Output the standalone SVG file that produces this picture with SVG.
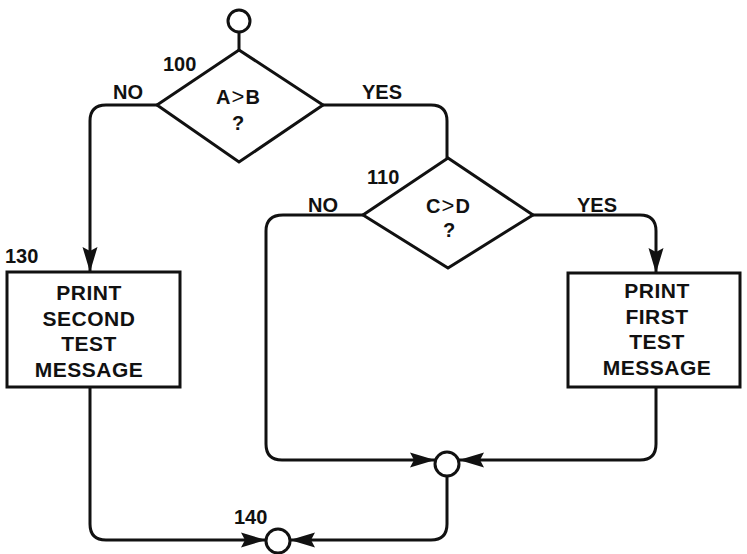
<svg xmlns="http://www.w3.org/2000/svg" width="747" height="554" viewBox="0 0 747 554">
<style>
.s{fill:#fff;stroke:#111;stroke-width:3}
.c{fill:none;stroke:#111;stroke-width:3}
text{font-family:"Liberation Sans",Arial,sans-serif;font-weight:bold;fill:#111}
.t{font-size:21px;letter-spacing:0.5px;text-anchor:middle}
.l{font-size:20px}
.q{font-size:20px;text-anchor:middle}
.gt{font-weight:normal;font-size:22px}
</style>
<defs>
<marker id="ah" markerUnits="userSpaceOnUse" markerWidth="30" markerHeight="20" viewBox="-26 -10 30 20" refX="0" refY="0" orient="auto">
<path d="M0,0 L-25,-7.5 L-21,0 L-25,7.5 Z" fill="#111"/>
</marker>
</defs>
<g id="connectors">
<path class="c" d="M239,32 V50"/>
<path class="c" d="M157,105 H106 Q90,105 90,121 V272" marker-end="url(#ah)"/>
<path class="c" d="M323,105 H431 Q447,105 447,121 V158"/>
<path class="c" d="M363,215 H283 Q266,215 266,231 V444 Q266,460 282,460 H435" marker-end="url(#ah)"/>
<path class="c" d="M533,215 H640 Q656,215 656,231 V273" marker-end="url(#ah)"/>
<path class="c" d="M656,387 V444 Q656,460 640,460 H459" marker-end="url(#ah)"/>
<path class="c" d="M447,476 V524 Q447,540 431,540 H290" marker-end="url(#ah)"/>
<path class="c" d="M90,387 V524 Q90,540 106,540 H266" marker-end="url(#ah)"/>
</g>
<g id="start"><circle class="s" cx="239" cy="21" r="11"/></g>
<g id="n100">
<polygon class="s" points="239,50 323,105 239,162 157,105"/>
<text class="q" x="238" y="104">A<tspan class="gt" dx="1">&gt;</tspan><tspan dx="1">B</tspan></text>
<text class="q" x="238" y="130">?</text>
<text class="l" x="163" y="71">100</text>
<text class="l" x="113" y="99">NO</text>
<text class="l" x="362" y="99">YES</text>
</g>
<g id="n110">
<polygon class="s" points="448,158 533,215 448,268 363,215"/>
<text class="q" x="448" y="213">C<tspan class="gt" dx="1">&gt;</tspan><tspan dx="1">D</tspan></text>
<text class="q" x="449" y="237">?</text>
<text class="l" x="367" y="184">110</text>
<text class="l" x="308" y="212">NO</text>
<text class="l" x="577" y="212">YES</text>
</g>
<g id="n130">
<rect class="s" x="7" y="272" width="173" height="115"/>
<text class="t" x="89" y="300">PRINT</text>
<text class="t" x="89" y="326">SECOND</text>
<text class="t" x="89" y="351">TEST</text>
<text class="t" x="89" y="377">MESSAGE</text>
<text class="l" x="5" y="263">130</text>
</g>
<g id="n120">
<rect class="s" x="568" y="273" width="172" height="114"/>
<text class="t" x="657" y="298">PRINT</text>
<text class="t" x="657" y="324">FIRST</text>
<text class="t" x="657" y="349">TEST</text>
<text class="t" x="657" y="375">MESSAGE</text>
</g>
<g id="join"><circle class="s" cx="447" cy="464" r="12"/></g>
<g id="n140">
<circle class="s" cx="278" cy="541" r="12"/>
<text class="l" x="234" y="524">140</text>
</g>
</svg>
